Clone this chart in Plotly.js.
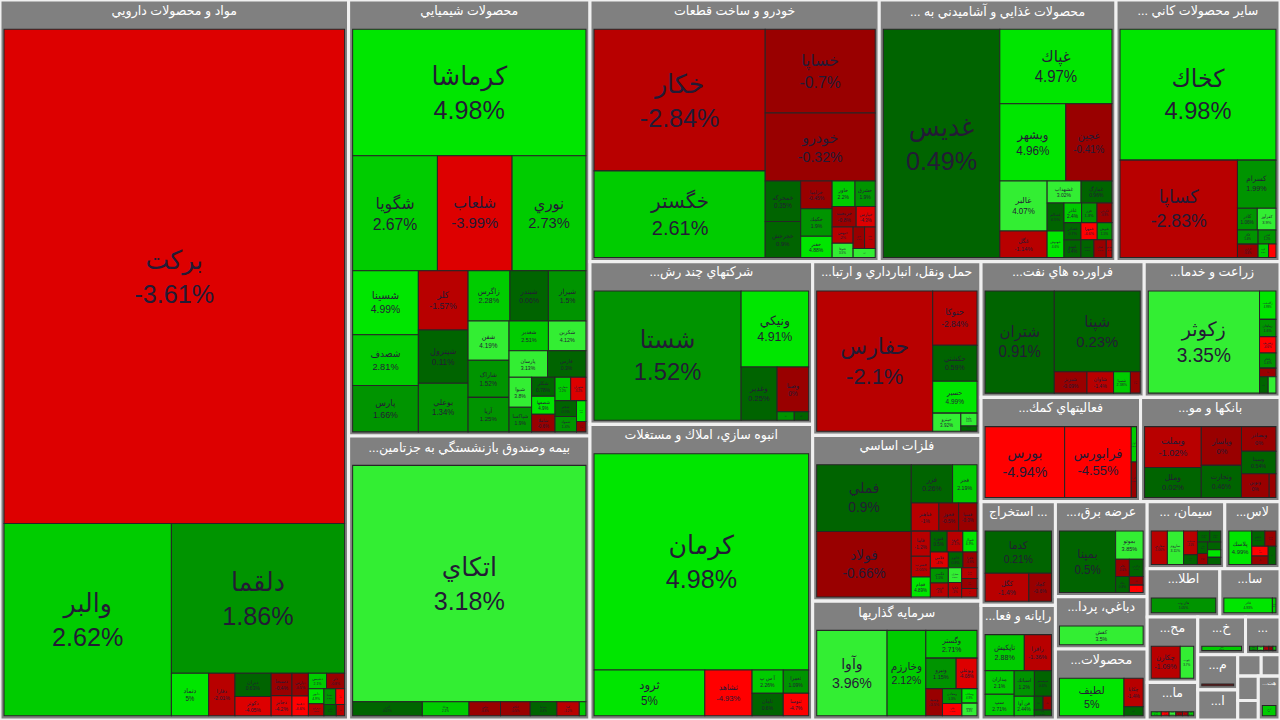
<!DOCTYPE html>
<html>
<head>
<meta charset="utf-8">
<script src="https://cdn.plot.ly/plotly-3.0.1.min.js"></script>
<style>
html,body{margin:0;padding:0;background:#f0f0f0;overflow:hidden;width:1280px;height:720px;}
/* the treemap's own outer padding (header band + side padding of the hidden root)
   is pushed outside the viewport so the sectors fill the page like the reference */
#chart{width:1280px;height:720px;transform-origin:0 0;
  transform:scale(1.006289,1.046512) translate(-4px,-28px);}
</style>
</head>
<body>
<div id="chart"></div>
<script>
// ---- Sector headers (as shown, truncated like the reference) ----
const sectorNames = [
  'مواد و محصولات دارويي',
  'محصولات شيميايي',
  '...بيمه وصندوق بازنشستگي به جزتامين',
  'خودرو و ساخت قطعات',
  '... محصولات غذايي و آشاميدني به',
  '... سایر محصولات كاني',
  '...شركتهاي چند رش',
  'انبوه سازي، املاك و مستغلات',
  '...حمل ونقل، انبارداري و ارتبا',
  'فلزات اساسي',
  'سرمايه گذاريها',
  '...فراورده هاي نفت',
  '...زراعت و خدما',
  '...فعاليتهاي كمك',
  '...بانكها و مو',
  'استخراج ...',
  '...رايانه و فعا',
  '...،عرضه برق',
  '...دباغي، پردا',
  '...محصولات',
  '... ،سيمان',
  '...لاس',
  '...اطلا',
  '...سا',
  '...مح',
  '...ما',
  '...خ',
  '...',
  '...م',
  '...ا',
  '', '', '', '',
  '...هت'
];
// size of sectors drawn as empty grey tiles (no visible stocks)
const blankSize = [0,0,0,0,0,0,0,0,0,0,0,0,0,0,0,0,0,0,0,0,0,0,0,0,0,0,0,0,0,0,5,4,5,4,0];

// ---- Stocks per sector ----
const stockNames = [
  ['برکت','والبر','دلقما','دتماد','دفارا','ديران','دكوثر','دسبحا','دجابر','دپارس','دعبيد','دشيمي','دلر','دابور','دزهراوي','دسينا','درازک','دكيمي','دالبر'],
  ['كرماشا','شگويا','شلعاب','نوري','شسينا','شصدف','پارس','كلر','شپترول','بوعلي','زاگرس','شبندر','شيراز','شفن','شاراک','آريا','شغدير','شكربن','پارسان','فارس','شيوا','شپاکسا','شكلر','شصفها','شاملا','شفارس','شتهران','شجم','شمواد','شتوكا','شرانل'],
  ['اتکاي','البرز','ودانا','بپاس','اتکام','بساما','کما','بنو'],
  ['خكار','خگستر','خساپا','خودرو','خمحركه','خچرخش','خزاميا','خكمك','خفنر','خاور','خشرق','خريخت','خپارس','خبهمن','ختوقا','خمهر','خلنت','خنصير'],
  ['غديس','غپاك','وبشهر','غچين','غالبر','غگل','غشهداب','غمارگ','غسالم','غبهنوش','غاذر','غزر','غگرجي','غشاذر','غپينو','غمهرا','غنوش','غدشت','غشان','غصينو'],
  ['كخاك','كساپا','كسرام','كاذر','كفرآور','كگاز','كرازي','كخزر','كلوند','كباده'],
  ['شستا','ونيكي','وغدير','وصنا','وپويا','وآتوس'],
  ['كرمان','ثرود','ثشاهد','آ س پ','ثامان','ثعمرا','ثنوسا'],
  ['حفارس','حتوكا','حكشتي','حسير','حپترو','حآسا','حريل'],
  ['فملي','فولاد','فزر','فجر','فباهنر','فخوز','فسپا','فاما','فسرب','فجام','فنورد','فرود','فنوال','فلامي','فگستر','فروس','فالوم','فافزا','فسازان','فكاوا','فمراد','فوكا','فخاس'],
  ['وآوا','وخارزم','وگستر','ونيرو','وبوعلي','وسپه','ومعادن','واتي','وسكاب','وتوسم'],
  ['شتران','شپنا','شبريز','شاوان','شسپا','شبهرن'],
  ['زكوثر','زگلدشت','زماهان','زشريف','زفجر','زدشت','زبينا','زمگسا'],
  ['بورس','فرابورس','اوان','كارا'],
  ['وبملت','وملل','وپاسار','وتجارت','وبصادر','وسينا','ونوين','وكار'],
  ['كدما','كگل','كچاد'],
  ['تاپكيش','رافزا','مداران','سپ','اسياتك','سيستم','فن آوا','تاپيكو','ماهان','رتاپ'],
  ['بمپنا','بموتو','بكام','بزاگرس','بتك','بجهرم','بنيرو'],
  ['كفش'],
  ['لطيف','چكاپا','چفيبر'],
  ['سفارس','ساروم','سدشت','سصفها','سهرمز','سبهان','سخزر','سشمال','سغرب','سكرد','سيلام'],
  ['پلاسك','پاكشو','پكرمان','پارتا','پسهند','پتاير'],
  ['هاي وب'],
  ['فاذر','فلوله'],
  ['چكارن','چوب'],
  ['تپمپي','تايرا','تكشا','تمحركه','تشكن','تكنو'],
  ['خاهن'],
  ['كاما','كبافق','كروي','كنور','كمنگنز'],
  ['اخابر'],
  ['چاپ'],
  [], [], [], [],
  ['گردش']
];
const stockValues = [
  [1803,345,278,17,12,9,7.5,5,4.5,4,3.5,3,3,2.5,2,2,1.5,1.5,1],
  [330,109,96,95,47,37.4,34,33,29.6,27,23.5,21.6,21.1,18,17,15.8,13.1,12.5,11.4,11.4,7.6,6.2,5,4.7,4.6,4.1,4,3.8,3.7,2.2,1.1],
  [645.5,11.5,7.7,5.2,4.9,4.4,3.7,1.1],
  [285.3,174.4,108.5,87.9,17,15,10.3,10.2,7.8,6.9,6.1,5.8,4.6,4,3.5,2.9,2.7,2.3],
  [315,99,60.4,42.3,28,14.8,8.8,8,5.6,5.3,4.1,3.6,3.5,3.5,3.5,3.3,3,2.7,2.6,1.2],
  [245.5,137.5,22.3,5.2,4.9,3.5,3.3,3,1.7,1.2],
  [248,67,25,18.4,1.9,1.6],
  [542,59.3,25.3,8.5,8.2,6.9,6.7],
  [211.3,31.2,20.8,18.3,6.6,2.7,1.1],
  [82.9,81.3,20.8,12.3,10.2,7.3,6.8,6.3,5.2,5,4.6,4.3,3.9,3.8,3.5,3.3,3,2.9,2.6,2.5,2.2,2,1.7],
  [87.7,48.3,20.7,13.5,9.3,6.6,4.2,3.5,3.2,2.8],
  [98.6,96.9,9.7,7.9,5,2.9],
  [160.2,6.6,4,3.8,3.5,2,2,1.8],
  [87.2,73,2.9,2.9],
  [36.1,26.5,24.3,20.1,13.2,12.2,10.2,2.5],
  [46.4,20.2,10.4],
  [22.3,15.4,10.9,9.9,8.2,6.9,6.2,1.9,1.8,1.6],
  [58.4,13.2,4,4,3.7,2,1.7],
  [48],
  [50.1,11.3,3.6],
  [12.1,12.1,7.4,3,3,2.7,2.6,2.5,2.3,2.2,2.1],
  [18,4.7,4,3.7,3.3,3.3],
  [35],
  [27,2],
  [22.5,10.5],
  [4.5,3.5,3,3,2.5,2.5],
  [18],
  [4,3,2.5,2,1.5],
  [14],
  [12],
  [], [], [], [],
  [9.5]
];
const stockChanges = [
  [-3.61,2.62,1.86,5,-2.01,0.63,-4.05,-0.4,-4.2,-0.5,-4.6,2.1,-0.8,4.9,-2.5,1.2,-4.8,0.4,-1.2],
  [4.98,2.67,-3.99,2.73,4.99,2.81,1.66,-1.57,0.11,1.34,2.28,0.06,1.5,4.19,1.52,1.25,2.51,4.12,3.13,0.3,3.8,1.9,0.78,4.9,-0.6,2.2,-3.2,0.5,1.4,4.8,-0.9],
  [3.18,0.07,2.1,-0.8,-0.5,0.3,-1.2,2.4],
  [-2.84,2.61,-0.7,-0.32,0.35,0.9,-0.45,1.9,4.88,2.2,1.9,-0.8,-4.3,-2,3.5,-0.6,-1.4,4.1],
  [0.49,4.97,4.96,-0.41,4.07,-1.14,3.02,0.96,0.5,4.6,2.4,1.3,-0.9,0.7,0.4,-4.6,1.5,0.2,-0.8,-1.3],
  [4.98,-2.83,1.99,1.06,3.9,1.4,-0.6,1.2,2.3,-4.7],
  [1.52,4.91,0.25,0,1.8,0.3],
  [4.98,5,-4.93,2.26,0.6,1.09,-4.7],
  [-2.1,-2.84,0.59,4.99,3.92,3.5,0.4],
  [0.9,-0.66,0.26,2.19,-1,-0.5,-0.3,-1.2,-2.05,4.89,0.5,-2.1,4.9,-4,1.5,-1,0.3,-0.6,3.5,-1,-1.5,-0.8,-1],
  [3.96,2.12,2.71,1.15,-4.08,-0.5,1.3,-4.6,4.9,3.3],
  [0.91,0.23,-0.09,-1.4,2.38,-0.5],
  [3.35,4.99,1.6,-4.6,1.4,-0.7,0.5,3.2],
  [-4.94,-4.55,2.2,-0.8],
  [-1.02,0.02,0,0.46,0,0.54,0,-0.3],
  [0.21,-1.4,-0.6],
  [2.88,-1.36,2.1,2.71,1.2,0.6,2.44,0.3,-0.5,0.8],
  [0.5,3.85,-0.6,0.4,0.3,-0.7,-4.6],
  [3.5],
  [5,-1.4,0.6],
  [-1.06,3.11,-2.5,0.4,0.8,0.3,0.7,-0.9,0.6,4.7,0.5],
  [4.99,0.84,-0.6,-4.6,-0.8,0.5],
  [1.05],
  [4.93,2],
  [-1.09,3.7],
  [2.4,-4.6,3.4,-0.7,-1.5,2.1],
  [2.36],
  [1.8,3.5,-2.5,-0.7,2.5],
  [-2.6],
  [1.9],
  [], [], [], [],
  [2]
];

// ---- styling helpers ----
function changeColor(p) {
  if (p >= 4.5) return '#00e600';
  if (p >= 3) return '#33ee33';
  if (p >= 2) return '#00cc00';
  if (p >= 1) return '#009400';
  if (p > 0) return '#006400';
  if (p > -1) return '#990000';
  if (p > -3) return '#b80000';
  if (p > -4.5) return '#dd0000';
  return '#ff0000';
}
// keep words in left-to-right order, as the reference renders them
function ltr(s) { return '\u200E' + s.split(' ').join(' \u200E'); }

const ids = [], labels = [], parents = [], values = [], texts = [];
const colors = [], lineColors = [], lineWidths = [], fontSizes = [], fontColors = [];
const GAP = '#f0f0f0';

sectorNames.forEach((name, s) => {
  const sid = 'sec' + s;
  const kids = stockNames[s];
  if (!kids.length) {
    ids.push(sid); labels.push('blank' + s); parents.push(''); values.push(blankSize[s]);
    texts.push(''); colors.push('#808080'); lineColors.push(GAP); lineWidths.push(3);
    fontSizes.push(12); fontColors.push('#808080');
    return;
  }
  ids.push(sid); labels.push(name || ('sector' + s)); parents.push(''); values.push(0);
  texts.push('<b>' + ltr(name) + '</b>');
  colors.push('#808080'); lineColors.push(GAP); lineWidths.push(3);
  fontSizes.push(12.5); fontColors.push('#ffffff');
  kids.forEach((k, i) => {
    const v = stockValues[s][i], p = stockChanges[s][i];
    ids.push(sid + '-' + i); labels.push(k); parents.push(sid); values.push(v);
    texts.push(k + '<br>' + p + '%');
    colors.push(changeColor(p)); lineColors.push('#262626'); lineWidths.push(1);
    fontSizes.push(Math.max(5, Math.min(25, 1.5 * Math.sqrt(v)))); fontColors.push('#231b35');
  });
});

const font = {family: "'Liberation Sans', 'DejaVu Sans', sans-serif", size: fontSizes, color: fontColors};

const trace = {
  type: 'treemap',
  ids: ids, labels: labels, parents: parents, values: values,
  branchvalues: 'remainder',
  sort: false,
  text: texts,
  textinfo: 'text',
  textposition: 'middle center',
  textfont: font,
  insidetextfont: font,
  hoverinfo: 'none',
  marker: {
    colors: colors,
    line: {color: lineColors, width: lineWidths},
    pad: {t: 28, l: 4, r: 4, b: 4}
  },
  tiling: {packing: 'squarify', squarifyratio: 1, pad: 0},
  pathbar: {visible: false},
  root: {color: GAP}
};

const layout = {
  width: 1280, height: 720,
  margin: {l: 0, r: 0, t: 0, b: 0},
  paper_bgcolor: GAP,
  showlegend: false
};

Plotly.newPlot('chart', [trace], layout, {displayModeBar: false, staticPlot: true});
</script>
</body>
</html>
